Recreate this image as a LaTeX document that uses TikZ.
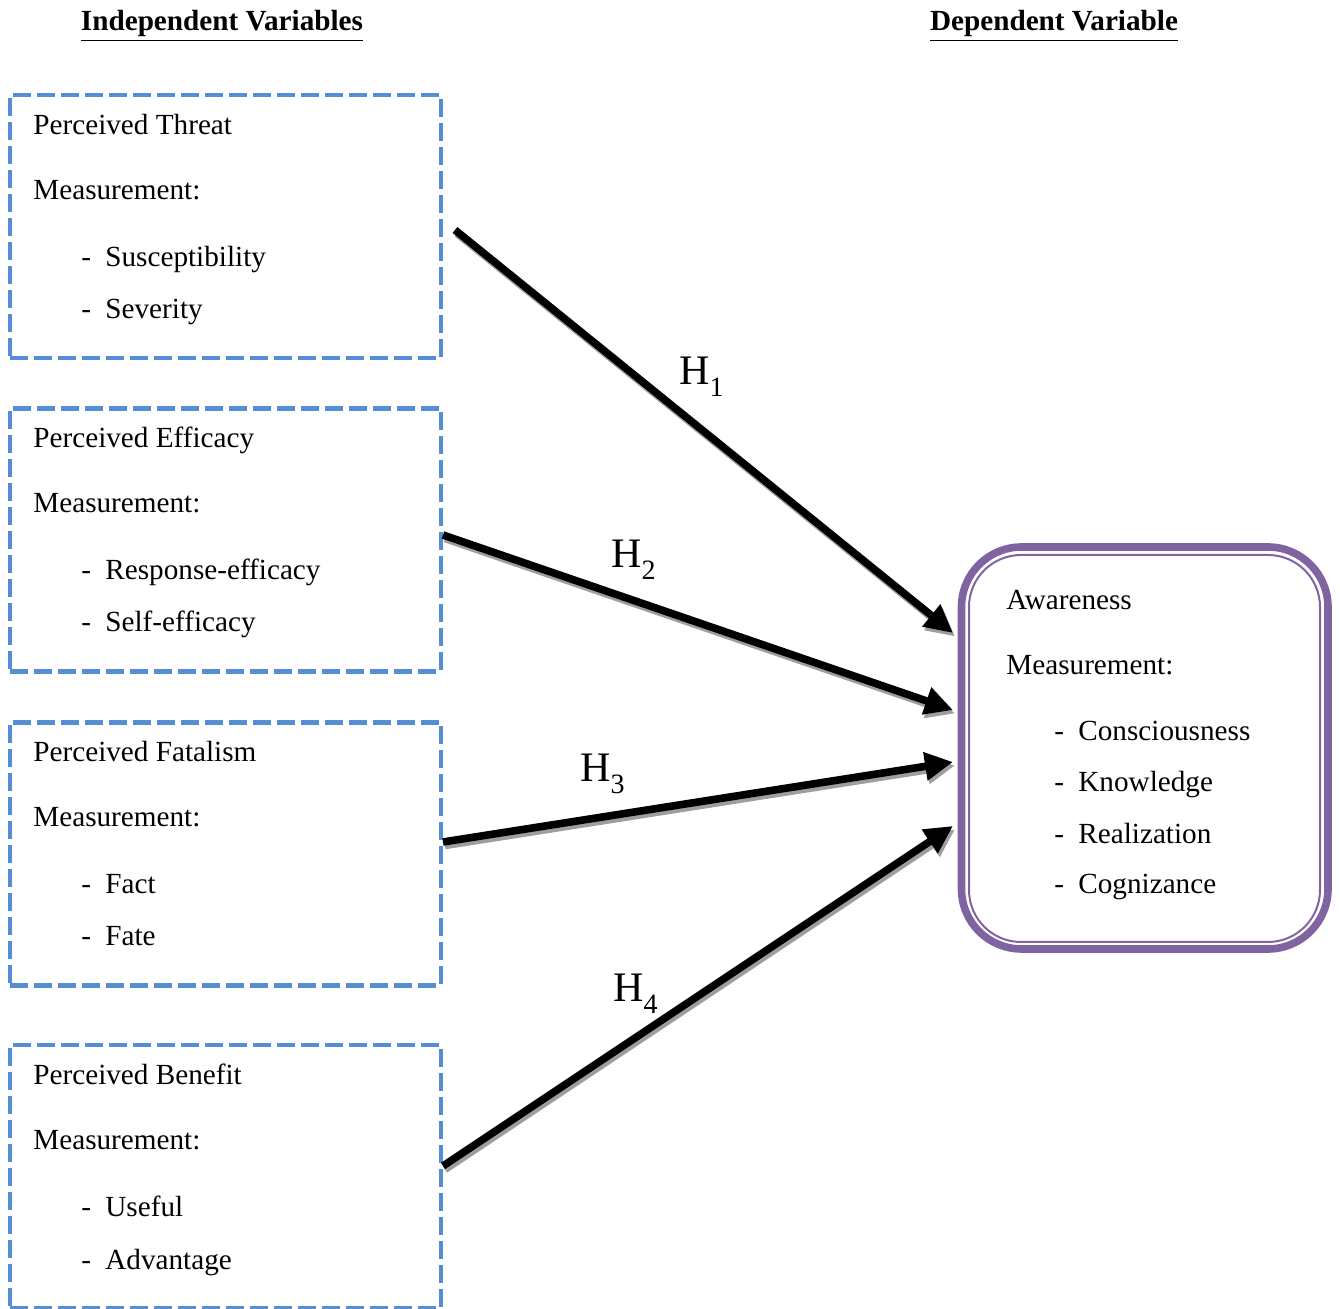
\documentclass[tikz,border=0pt]{standalone}
\usepackage{fontspec}
\setmainfont{Liberation Serif}
\usetikzlibrary{arrows.meta}
\definecolor{ivblue}{HTML}{558ED5}
\definecolor{dvpurple}{HTML}{8064A2}
\newcommand{\hsub}[1]{\raisebox{-0.6ex}{\fontsize{14}{14}\selectfont #1}}
\tikzset{
  ivbox/.style={draw=ivblue, line width=2.2pt, dash pattern=on 9pt off 3pt, minimum width=215.5pt, minimum height=131.5pt, inner sep=0pt},
  txt/.style={anchor=base west, inner sep=0pt, font=\fontsize{14.6}{17}\selectfont},
  head/.style={anchor=base, inner sep=0pt, font=\fontsize{14.6}{17}\selectfont\bfseries},
  hlab/.style={anchor=base west, inner sep=0pt, font=\fontsize{21}{24}\selectfont},
  conn/.style={line width=3.8pt, -{Triangle[length=14pt,width=13.5pt]}},
  connshadow/.style={line width=3.8pt, draw=black!38, -{Triangle[length=14pt,width=13.5pt,fill=black!38]}},
}
\begin{document}
\begin{tikzpicture}[x=0.5pt,y=-0.5pt]
\useasboundingbox (0,0) rectangle (1340,1309);
% headings
\node[head] (hiv) at (222,31) {\underline{Independent Variables}};
\node[head] (hdv) at (1054,31) {\underline{Dependent Variable}};
% independent variable boxes
\foreach \n/\top/\cy/\t/\a/\b in {1/95/226.5/Perceived Threat/Susceptibility/Severity,
  2/408/540/Perceived Efficacy/Response-efficacy/Self-efficacy,
  3/722/854/Perceived Fatalism/Fact/Fate,
  4/1045/1176.5/Perceived Benefit/Useful/Advantage}{
  \node[ivbox] (b\n) at (225.5,\cy) {};
  \node[txt] (t\n) at (33,\top+40) {\t};
  \node[txt] (m\n) at (33,\top+105) {Measurement:};
  \node[txt] (da\n) at (81,\top+172) {-};
  \node[txt] (a\n) at (105,\top+172) {\a};
  \node[txt] (db\n) at (81,\top+224) {-};
  \node[txt] (bb\n) at (105,\top+224) {\b};
}
% dependent variable box
\node[draw=dvpurple, line width=3.8pt, rounded corners=30pt, minimum width=183.25pt, minimum height=201pt, inner sep=0pt] (aw) at (1144.75,748) {};
\node[draw=dvpurple, line width=1pt, rounded corners=26pt, minimum width=175.5pt, minimum height=193.5pt, inner sep=0pt] (awin) at (1144.5,748.5) {};
\node[txt] (awt) at (1006,610) {Awareness};
\node[txt] (awm) at (1006,675) {Measurement:};
\foreach \k/\y/\w in {1/741/Consciousness,2/792/Knowledge,3/844/Realization,4/894/Cognizance}{
  \node[txt] (awd\k) at (1054,\y) {-};
  \node[txt] (awi\k) at (1078,\y) {\w};
}
% connector end points
\coordinate (s1) at (455,230);  \coordinate (e1) at (953,633);
\coordinate (s2) at (443,535);  \coordinate (e2) at (953,710);
\coordinate (s3) at (443,842);  \coordinate (e3) at (953,762);
\coordinate (s4) at (443,1166); \coordinate (e4) at (953,826);
\foreach \k in {1,2,3,4}{
  \draw[connshadow] ([shift={(2,3.5)}]s\k) -- ([shift={(2,3.5)}]e\k);
}
\foreach \k in {1,2,3,4}{
  \draw[conn] (s\k) -- (e\k);
}
% hypothesis labels
\node[hlab] (h1) at (679,385) {H\hsub{1}};
\node[hlab] (h2) at (611,568) {H\hsub{2}};
\node[hlab] (h3) at (580,782) {H\hsub{3}};
\node[hlab] (h4) at (613,1002) {H\hsub{4}};
\end{tikzpicture}
\end{document}
